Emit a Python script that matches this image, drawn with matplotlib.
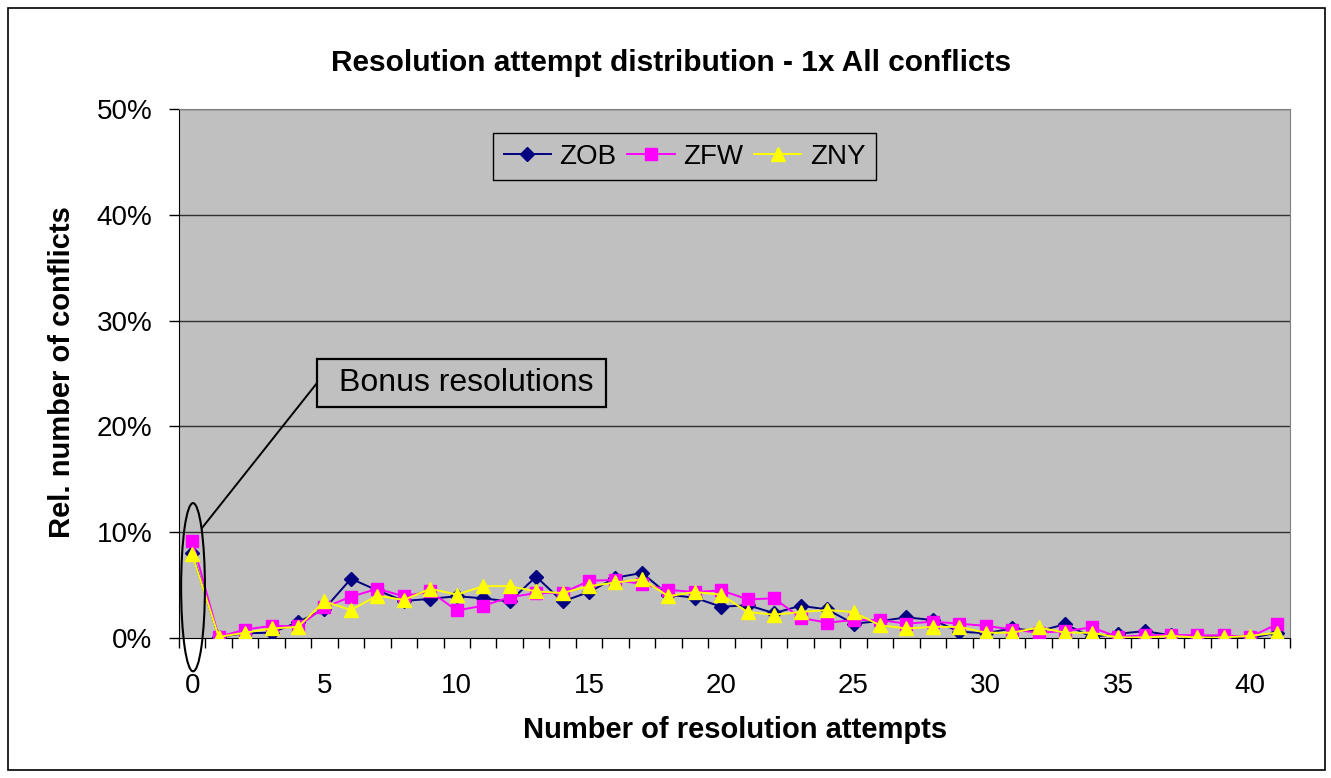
import matplotlib
matplotlib.use("Agg")
import matplotlib.pyplot as plt
from matplotlib.patches import Ellipse, Rectangle
from matplotlib.lines import Line2D
import numpy as np

plt.rcParams['font.family'] = ['Liberation Sans', 'DejaVu Sans']

attempts = list(range(42))
zob = [8.0, 0.1, 0.45, 0.5, 1.5, 2.75, 5.6, 4.5, 3.5, 3.7, 3.95, 3.75, 3.45, 5.8, 3.45, 4.35,
       5.7, 6.15, 4.1, 3.8, 2.95, 3.1, 2.35, 3.05, 2.7, 1.35, 1.6, 1.95, 1.7, 0.6, 0.45, 0.9,
       0.65, 1.3, 0.1, 0.4, 0.65, 0.25, 0.1, 0.1, 0.0, 0.5]
zfw = [9.2, 0.1, 0.8, 1.15, 1.1, 2.9, 3.9, 4.65, 3.95, 4.4, 2.6, 3.05, 3.85, 4.25, 4.25, 5.4,
       5.5, 5.1, 4.55, 4.35, 4.5, 3.65, 3.75, 1.9, 1.45, 1.7, 1.7, 1.35, 1.55, 1.35, 1.15, 0.8,
       0.5, 0.65, 1.0, 0.1, 0.25, 0.3, 0.25, 0.25, 0.1, 1.3]
zny = [7.9, 0.1, 0.5, 0.9, 1.05, 3.45, 2.65, 4.0, 3.6, 4.65, 4.1, 4.9, 4.9, 4.4, 4.25, 4.9,
       5.25, 5.55, 3.95, 4.35, 4.1, 2.45, 2.2, 2.45, 2.65, 2.45, 1.2, 0.9, 1.05, 1.05, 0.5, 0.5,
       1.0, 0.5, 0.5, 0.05, 0.05, 0.2, 0.05, 0.05, 0.2, 0.5]
series_names = ["ZOB", "ZFW", "ZNY"]
y_ticks = [0, 10, 20, 30, 40, 50]
x_ticks = [0, 5, 10, 15, 20, 25, 30, 35, 40]

W, H = 1331, 778
def fx(px):
    return px / W
def fy(py):
    return 1 - py / H

fig = plt.figure(figsize=(W / 100, H / 100), dpi=100)
fig.patch.set_facecolor('white')
fig.add_artist(Rectangle((fx(8), fy(770)), (1325 - 8) / W, (770 - 8) / H,
                         transform=fig.transFigure, fill=False, edgecolor='black', lw=1.2))

ax = fig.add_axes([fx(179), fy(638), (1290 - 179) / W, (638 - 109) / H])
ax.set_facecolor('#C0C0C0')
ax.set_xlim(-0.5, 41.5)
ax.set_ylim(0, 50)

for yv in y_ticks[1:]:
    ax.axhline(yv, color='#303030', lw=1.0, zorder=1)

ax.plot(attempts, zob, color='#000080', marker='D', markersize=7, lw=1.4, label=series_names[0], zorder=3)
ax.plot(attempts, zfw, color='#FF00FF', marker='s', markersize=8, lw=1.4, label=series_names[1], zorder=4)
ax.plot(attempts, zny, color='#FFFF00', marker='^', markersize=10, lw=1.4, label=series_names[2], zorder=5)

ax.set_yticks(y_ticks)
ax.set_yticklabels([f"{v}%" for v in y_ticks])
ax.set_xticks(x_ticks)
ax.set_xticklabels([str(v) for v in x_ticks])
ax.set_xticks(np.arange(-0.5, 42, 1), minor=True)
ax.tick_params(axis='x', which='major', length=0, pad=25, labelsize=20)
ax.tick_params(axis='x', which='minor', length=7, width=1, direction='out')
ax.tick_params(axis='y', which='major', length=7, width=1, direction='out', pad=12, labelsize=20)

for s in ['top', 'right']:
    ax.spines[s].set_color('#808080')
ax.spines['left'].set_color('black')
ax.spines['bottom'].set_color('black')

leg = ax.legend(loc='upper left', bbox_to_anchor=((493 - 179) / (1290 - 179), 1 - (133 - 109) / (638 - 109)),
                ncol=3, frameon=True, fancybox=False, fontsize=20, handlelength=1.7,
                handletextpad=0.3, columnspacing=0.4, borderpad=0.38, borderaxespad=0)
leg.get_frame().set_facecolor('#C0C0C0')
leg.get_frame().set_edgecolor('black')
leg.get_frame().set_linewidth(1.0)
leg.get_frame().set_alpha(1)

# Annotation ellipse, connector and box
ell = Ellipse((0.03, 4.8), 0.9, 15.9, fill=False, edgecolor='black', lw=1.5, clip_on=False, zorder=6)
ax.add_patch(ell)
fig.add_artist(Line2D([fx(317), fx(202)], [fy(383), fy(528)], transform=fig.transFigure,
                      color='black', lw=1.4, zorder=7))
fig.add_artist(Rectangle((fx(317), fy(407)), (606 - 317) / W, (407 - 359) / H,
                         transform=fig.transFigure, facecolor='#C0C0C0', edgecolor='black', lw=1.6, zorder=7))
fig.text(fx(339), fy(383), "Bonus resolutions", ha='left', va='center', fontsize=23, zorder=8)

fig.text(fx(671), fy(63), "Resolution attempt distribution - 1x All conflicts",
         ha='center', va='center', fontsize=21.5, fontweight='bold')
fig.text(fx(735), fy(730), "Number of resolution attempts",
         ha='center', va='center', fontsize=21, fontweight='bold')
fig.text(fx(62), fy(372), "Rel. number of conflicts",
         ha='center', va='center', fontsize=21, fontweight='bold', rotation=90)

fig.savefig("out.png", dpi=100, facecolor='white')
